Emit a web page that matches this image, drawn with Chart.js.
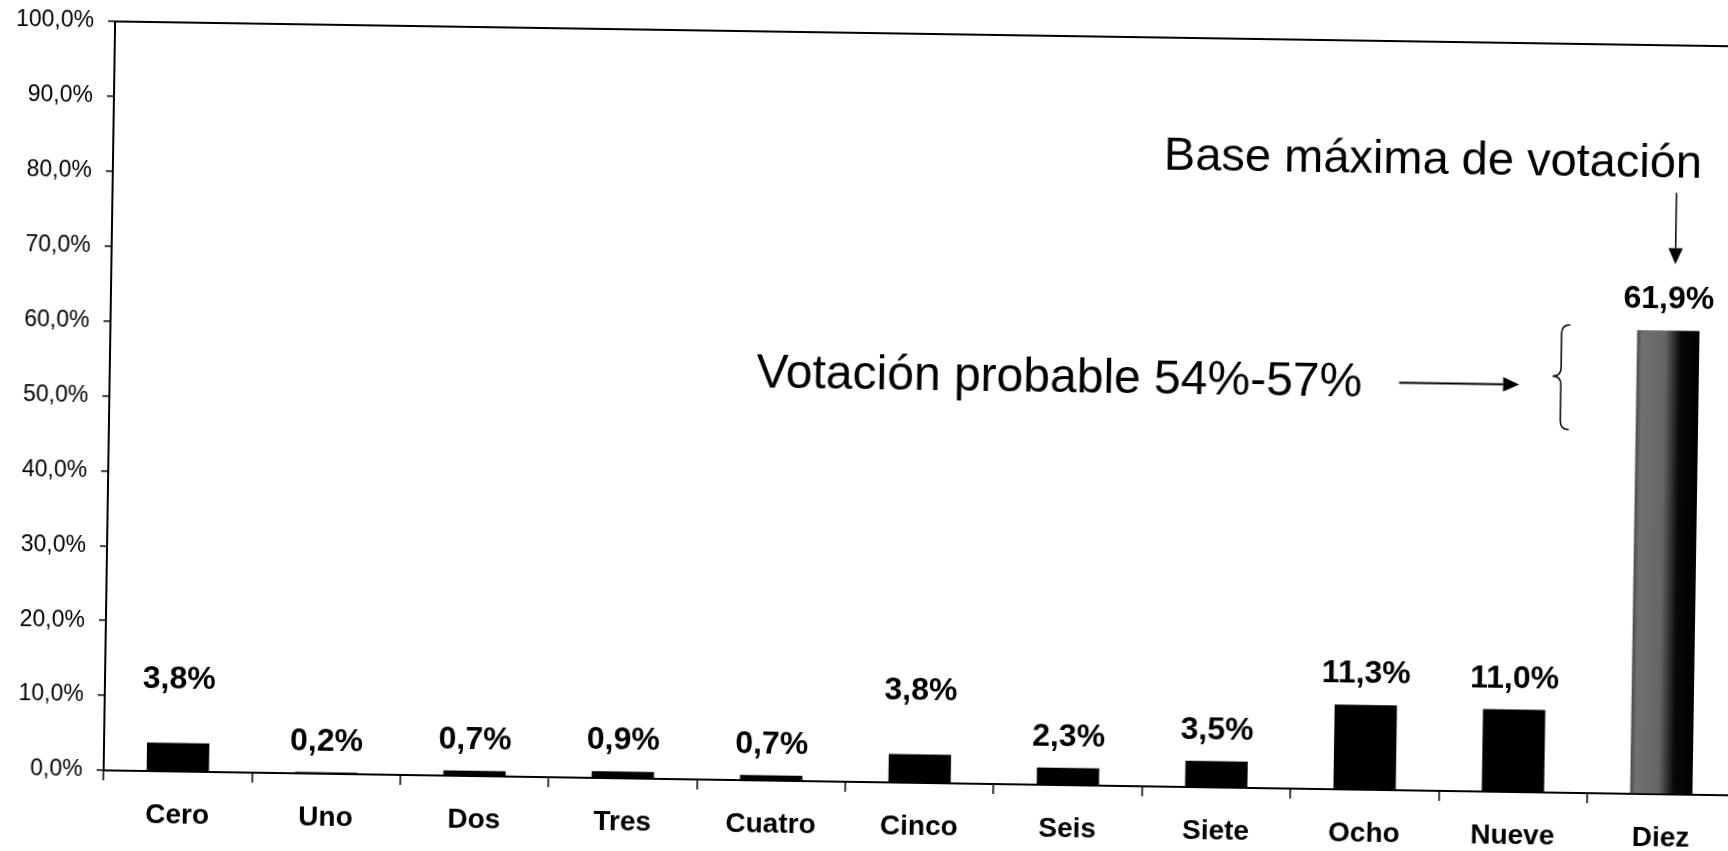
<!DOCTYPE html>
<html>
<head>
<meta charset="utf-8">
<title>Votación</title>
<script src="https://cdn.jsdelivr.net/npm/chart.js@4/dist/chart.umd.min.js"></script>
<style>
    html, body { margin: 0; padding: 0; background: #fff; overflow: hidden; }
    #chart {
        position: absolute; left: 0; top: 0;
        transform: rotate(0.88deg);
        transform-origin: 864px 425px;
    }
</style>
</head>
<body>
<canvas id="chart" width="1760" height="870"></canvas>
<script>
var categories = ['Cero', 'Uno', 'Dos', 'Tres', 'Cuatro', 'Cinco', 'Seis', 'Siete', 'Ocho', 'Nueve', 'Diez'];
var votes = [3.8, 0.2, 0.7, 0.9, 0.7, 3.8, 2.3, 3.5, 11.3, 11.0, 61.9];
var yTicks = [0, 10, 20, 30, 40, 50, 60, 70, 80, 90, 100];
var raisedLabels = ['Cero', 'Cinco'];
var highlightIndex = 10;

var baseText = 'Base máxima de votación';
var probableText = 'Votación probable 54%-57%';

var BAR_PCT = 0.42;
var FONT = '"Liberation Sans", Arial, sans-serif';

function pct(v) {
    return v.toFixed(1).replace('.', ',') + '%';
}

function halfBar(chart) {
    var xs = chart.scales.x;
    return xs.width / categories.length * BAR_PCT / 2;
}

function arrow(ctx, x1, y1, x2, y2, head) {
    var a = Math.atan2(y2 - y1, x2 - x1);
    ctx.beginPath();
    ctx.moveTo(x1, y1);
    ctx.lineTo(x2 - Math.cos(a) * head, y2 - Math.sin(a) * head);
    ctx.stroke();
    ctx.beginPath();
    ctx.moveTo(x2, y2);
    ctx.lineTo(x2 - Math.cos(a) * head - Math.sin(a) * head * 0.45, y2 - Math.sin(a) * head + Math.cos(a) * head * 0.45);
    ctx.lineTo(x2 - Math.cos(a) * head + Math.sin(a) * head * 0.45, y2 - Math.sin(a) * head - Math.cos(a) * head * 0.45);
    ctx.closePath();
    ctx.fill();
}

// left facing curly brace
function brace(ctx, xr, yt, yb, ym, w) {
    var xm = xr - w / 2, xl = xr - w, r = w / 2;
    ctx.beginPath();
    ctx.moveTo(xr, yt);
    ctx.quadraticCurveTo(xm, yt, xm, yt + r);
    ctx.lineTo(xm, ym - r);
    ctx.quadraticCurveTo(xm, ym, xl, ym);
    ctx.quadraticCurveTo(xm, ym, xm, ym + r);
    ctx.lineTo(xm, yb - r);
    ctx.quadraticCurveTo(xm, yb, xr, yb);
    ctx.stroke();
}

var valueLabels = {
    id: 'valueLabels',
    afterDatasetsDraw: function (chart) {
        var ctx = chart.ctx;
        var meta = chart.getDatasetMeta(0);
        ctx.save();
        ctx.fillStyle = '#000';
        ctx.font = 'bold 32px ' + FONT;
        ctx.textAlign = 'center';
        ctx.textBaseline = 'alphabetic';
        meta.data.forEach(function (bar, i) {
            var gap = raisedLabels.indexOf(categories[i]) >= 0 ? 55 : 22;
            ctx.fillText(pct(votes[i]), bar.x, bar.y - gap);
        });
        ctx.restore();
    }
};

var notes = {
    id: 'notes',
    afterDraw: function (chart) {
        var ctx = chart.ctx;
        var area = chart.chartArea;
        var xs = chart.scales.x, ys = chart.scales.y;
        var diezX = xs.getPixelForValue(highlightIndex);
        var half = halfBar(chart);

        ctx.save();
        ctx.strokeStyle = '#000';
        ctx.fillStyle = '#000';

        // top frame line
        ctx.lineWidth = 2;
        ctx.beginPath();
        ctx.moveTo(area.left, area.top);
        ctx.lineTo(area.right, area.top);
        ctx.stroke();

        // Base maxima
        ctx.font = '47px ' + FONT;
        ctx.textAlign = 'right';
        ctx.textBaseline = 'alphabetic';
        ctx.fillText(baseText, diezX + half, ys.getPixelForValue(82.4));
        ctx.lineWidth = 1.5;
        arrow(ctx, diezX + 6, ys.getPixelForValue(80.3), diezX + 6, ys.getPixelForValue(70.8), 16);

        // Votacion probable
        var ax2 = xs.getPixelForValue(9);
        var ax1 = ax2 - 120;
        ctx.font = '48px ' + FONT;
        ctx.fillText(probableText, ax1 - 37, ys.getPixelForValue(52.5));
        ctx.lineWidth = 2;
        arrow(ctx, ax1, ys.getPixelForValue(54.4), ax2, ys.getPixelForValue(54.4), 16);

        ctx.lineWidth = 1.5;
        brace(ctx, diezX - half - 67, ys.getPixelForValue(62.5), ys.getPixelForValue(48.5), ys.getPixelForValue(55.6), 17);
        ctx.restore();
    }
};

function barColor(c) {
    if (c.dataIndex !== highlightIndex) return '#000';
    var chart = c.chart;
    if (!chart.chartArea || !chart.scales.x) return '#333';
    var cx = chart.scales.x.getPixelForValue(c.dataIndex);
    var half = halfBar(chart);
    var g = chart.ctx.createLinearGradient(cx - half, 0, cx + half, 0);
    g.addColorStop(0, '#4a4a4a');
    g.addColorStop(0.08, '#707070');
    g.addColorStop(0.45, '#666666');
    g.addColorStop(0.6, '#2e2e2e');
    g.addColorStop(0.7, '#080808');
    g.addColorStop(1, '#000');
    return g;
}

var chart = new Chart(document.getElementById('chart').getContext('2d'), {
    type: 'bar',
    data: {
        labels: categories,
        datasets: [{
            data: votes,
            backgroundColor: barColor,
            borderWidth: 0,
            categoryPercentage: 1,
            barPercentage: BAR_PCT
        }]
    },
    options: {
        responsive: false,
        animation: false,
        devicePixelRatio: 1,
        layout: { padding: { left: 0, top: 33, right: 19, bottom: 0 } },
        plugins: {
            legend: { display: false },
            tooltip: { enabled: false }
        },
        scales: {
            x: {
                grid: { offset: true, drawOnChartArea: false, drawTicks: true, tickLength: 10, color: '#000', lineWidth: 1.5 },
                border: { display: true, color: '#000', width: 2 },
                ticks: { color: '#000', font: { family: FONT, size: 28, weight: 'bold' }, padding: 17, maxRotation: 0 },
                afterFit: function (s) { s.height = 88; }
            },
            y: {
                min: 0,
                max: 100,
                afterBuildTicks: function (s) {
                    s.ticks = yTicks.map(function (v) { return { value: v }; });
                },
                grid: { drawOnChartArea: false, drawTicks: true, tickLength: 7, color: '#000', lineWidth: 1.5 },
                border: { display: true, color: '#000', width: 2 },
                ticks: {
                    color: '#000',
                    font: { family: FONT, size: 23 },
                    padding: 14,
                    callback: function (v) { return pct(v); }
                },
                afterFit: function (s) { s.width = 109; }
            }
        }
    },
    plugins: [valueLabels, notes]
});
</script>
</body>
</html>
